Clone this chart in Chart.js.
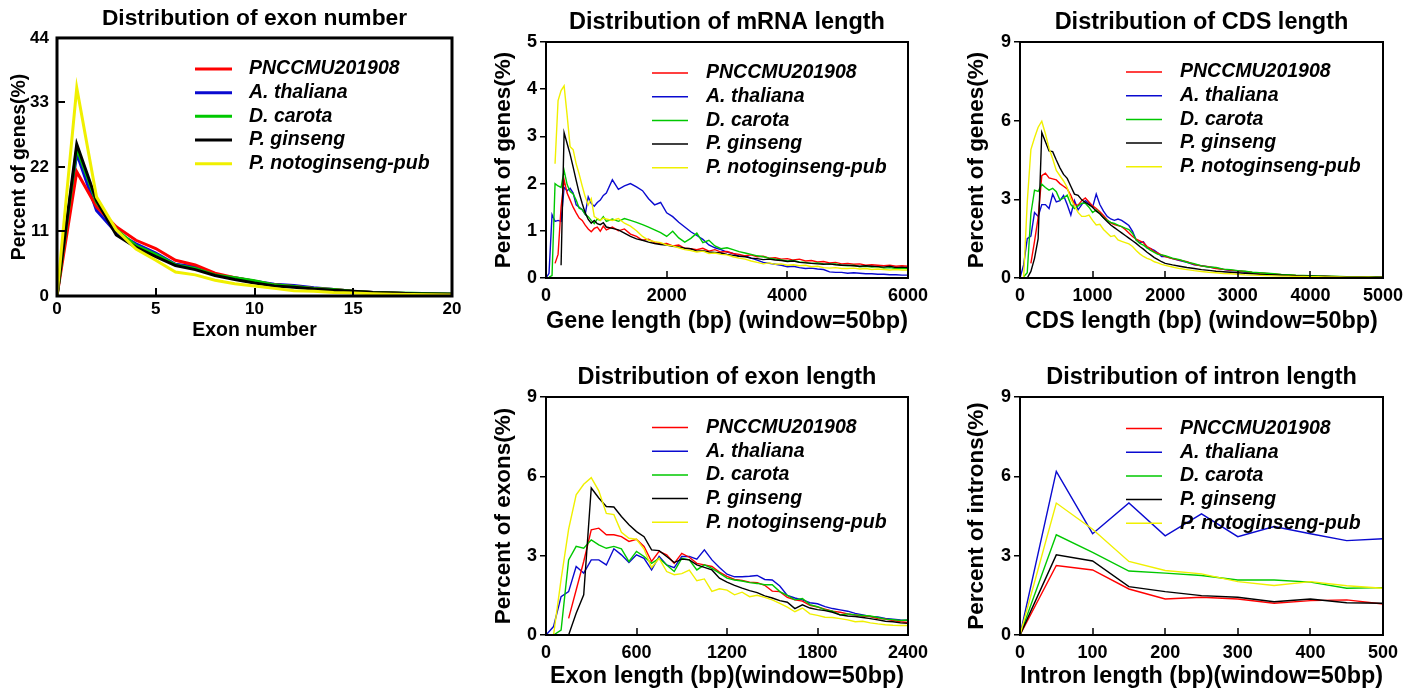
<!DOCTYPE html>
<html>
<head>
<meta charset="utf-8">
<title>Gene structure distributions</title>
<script src="https://cdn.jsdelivr.net/npm/chart.js@4.4.1/dist/chart.umd.min.js"></script>
<style>
  html, body { margin: 0; padding: 0; background: #fff; }
  #wrap { position: relative; width: 1422px; height: 693px; overflow: hidden; }
  canvas { position: absolute; }
</style>
</head>
<body>
<div id="wrap">
  <canvas id="exonNumber" width="470" height="345" style="left:0;top:0"></canvas>
  <canvas id="mrnaLength" width="470" height="345" style="left:480px;top:0"></canvas>
  <canvas id="cdsLength" width="467" height="345" style="left:955px;top:0"></canvas>
  <canvas id="exonLength" width="470" height="338" style="left:480px;top:355px"></canvas>
  <canvas id="intronLength" width="467" height="338" style="left:955px;top:355px"></canvas>
</div>
<script>
// series shared by all five panels
const seriesNames = ['PNCCMU201908', 'A. thaliana', 'D. carota', 'P. ginseng', 'P. notoginseng-pub'];
const seriesColors = ['#ff0000', '#0a0ad0', '#00c800', '#000000', '#f0f000'];
const drawOrder = [3, 4, 2, 1, 0];

// exon number
const exonNumX = [0, 1, 2, 3, 4, 5, 6, 7, 8, 9, 10, 11, 12, 13, 14, 15, 16, 17, 18, 19, 20];
const exonNumRed = [0, 21.2, 15.2, 11.8, 9.5, 8.1, 6.1, 5.3, 3.9, 3.1, 2.5, 1.9, 1.6, 1.3, 1.1, 0.8, 0.6, 0.5, 0.4, 0.35, 0.3];
const exonNumBlue = [0, 24.3, 14.6, 10.8, 8.9, 7.3, 5.4, 5.0, 3.6, 3.1, 2.5, 2.0, 1.8, 1.4, 1.1, 0.8, 0.6, 0.5, 0.4, 0.35, 0.3];
const exonNumGreen = [0, 25.2, 16.0, 11.3, 8.6, 7.1, 5.3, 4.7, 3.6, 3.1, 2.6, 1.9, 1.6, 1.3, 1.1, 0.8, 0.6, 0.5, 0.45, 0.4, 0.35];
const exonNumBlack = [0, 25.9, 16.3, 10.4, 8.3, 6.7, 5.2, 4.5, 3.5, 2.8, 2.2, 1.7, 1.5, 1.2, 1.0, 0.8, 0.6, 0.5, 0.4, 0.35, 0.3];
const exonNumYellow = [0, 35.5, 16.9, 11.3, 8.0, 6.1, 4.1, 3.6, 2.7, 2.1, 1.7, 1.3, 0.9, 0.8, 0.6, 0.5, 0.4, 0.3, 0.25, 0.2, 0.15];
const exonNumXTicks = [0, 5, 10, 15, 20];
const exonNumYTicks = [0, 11, 22, 33, 44];

// mRNA length
const mrnaX = [0, 50, 100, 150, 200, 250, 300, 350, 400, 450, 500, 550, 600, 650, 700, 750, 800, 850, 900, 950, 1000,
  1100, 1200, 1300, 1400, 1500, 1600, 1700, 1800, 1900, 2000,
  2100, 2200, 2300, 2400, 2500, 2600, 2700, 2800, 2900, 3000,
  3100, 3200, 3300, 3400, 3500, 3600, 3700, 3800, 3900, 4000,
  4100, 4200, 4300, 4400, 4500, 4600, 4700, 4800, 4900, 5000,
  5100, 5200, 5300, 5400, 5500, 5600, 5700, 5800, 5900, 6000];
const mrnaRed = [null, null, null, 0.31, 0.5, 1.5, 2.08, 1.8, 1.65, 1.5, 1.38, 1.27, 1.22, 1.12, 1.04, 0.98, 1.05, 1.08, 0.99, 1.1, 1.02,
  1.08, 1.0, 1.04, 0.93, 0.88, 0.8, 0.82, 0.75, 0.72, 0.73,
  0.68, 0.7, 0.63, 0.62, 0.6, 0.63, 0.57, 0.6, 0.55, 0.56,
  0.52, 0.5, 0.47, 0.49, 0.45, 0.46, 0.42, 0.43, 0.4, 0.41,
  0.38, 0.4, 0.36, 0.37, 0.34, 0.35, 0.32, 0.33, 0.3, 0.31,
  0.29, 0.3, 0.27, 0.28, 0.27, 0.26, 0.27, 0.25, 0.26, 0.25];
const mrnaBlue = [0, 0.1, 1.34, 1.2, 1.22, 1.2, 1.92, 1.85, 1.9, 1.8, 1.55, 1.5, 1.45, 1.35, 1.72, 1.58, 1.52, 1.6, 1.65, 1.75, 1.8,
  2.08, 1.88, 1.95, 2.0, 1.93, 1.85, 1.68, 1.55, 1.6, 1.38,
  1.3, 1.18, 1.08, 0.98, 0.9, 0.82, 0.7, 0.64, 0.6, 0.55,
  0.52, 0.46, 0.47, 0.42, 0.38, 0.33, 0.31, 0.29, 0.27, 0.24,
  0.25, 0.22, 0.2, 0.21, 0.19, 0.18, 0.13, 0.12, 0.12, 0.1,
  0.11, 0.1, 0.09, 0.09, 0.08, 0.08, 0.07, 0.07, 0.06, 0.06];
const mrnaGreen = [null, 0.02, 0.05, 2.0, 1.95, 1.92, 2.28, 1.98, 1.83, 1.78, 1.65, 1.48, 1.45, 1.35, 1.3, 1.22, 1.15, 1.25, 1.22, 1.3, 1.2,
  1.25, 1.2, 1.26, 1.22, 1.18, 1.13, 1.08, 1.02, 0.96, 0.88,
  0.99, 0.85, 0.76, 0.84, 0.95, 0.75, 0.8, 0.68, 0.62, 0.64,
  0.6, 0.56, 0.53, 0.5, 0.47, 0.45, 0.42, 0.4, 0.38, 0.36,
  0.37, 0.34, 0.33, 0.31, 0.32, 0.3, 0.29, 0.3, 0.27, 0.26,
  0.27, 0.24, 0.25, 0.23, 0.24, 0.21, 0.22, 0.2, 0.21, 0.2];
const mrnaBlack = [null, null, null, null, null, 0.27, 3.08, 2.85, 2.62, 2.35, 2.07, 1.8, 1.58, 1.38, 1.24, 1.16, 1.22, 1.15, 1.13, 1.17, 1.08,
  1.05, 1.02, 0.95, 0.88, 0.83, 0.8, 0.76, 0.73, 0.71, 0.7,
  0.67, 0.66, 0.63, 0.62, 0.57, 0.58, 0.55, 0.54, 0.53, 0.5,
  0.48, 0.46, 0.45, 0.42, 0.41, 0.39, 0.4, 0.38, 0.37, 0.35,
  0.36, 0.33, 0.32, 0.31, 0.3, 0.29, 0.3, 0.28, 0.27, 0.27,
  0.26, 0.25, 0.26, 0.25, 0.24, 0.23, 0.25, 0.22, 0.23, 0.22];
const mrnaYellow = [null, null, null, 2.42, 3.76, 3.97, 4.07, 3.45, 2.78, 2.72, 2.42, 2.2, 1.95, 1.72, 1.55, 1.68, 1.3, 1.26, 1.22, 1.27, 1.25,
  1.22, 1.26, 1.16, 1.1, 1.0, 0.88, 0.8, 0.77, 0.75, 0.7,
  0.68, 0.64, 0.6, 0.58, 0.55, 0.57, 0.52, 0.53, 0.5, 0.49,
  0.45, 0.42, 0.4, 0.36, 0.33, 0.3, 0.32, 0.29, 0.3, 0.27,
  0.28, 0.26, 0.27, 0.24, 0.25, 0.22, 0.21, 0.22, 0.2, 0.2,
  0.21, 0.19, 0.2, 0.18, 0.19, 0.18, 0.17, 0.18, 0.17, 0.17];
const mrnaXTicks = [0, 2000, 4000, 6000];
const mrnaYTicks = [0, 1, 2, 3, 4, 5];

// CDS length
const cdsX = [0, 50, 100, 150, 200, 250, 300, 350, 400, 450, 500, 550, 600, 650, 700, 750, 800, 850, 900, 950,
  1000, 1050, 1100, 1150, 1200, 1250, 1300, 1350, 1400, 1450, 1500, 1550, 1600, 1650, 1700, 1750, 1800, 1850, 1900, 1950, 2000,
  2100, 2200, 2300, 2400, 2500, 2600, 2700, 2800, 2900, 3000,
  3100, 3200, 3300, 3400, 3500, 3600, 3700, 3800, 3900, 4000,
  4100, 4200, 4300, 4400, 4500, 4600, 4700, 4800, 4900, 5000];
const cdsRed = [null, null, null, 0.56, 1.4, 2.3, 3.9, 4.0, 3.82, 3.78, 3.74, 3.6, 3.5, 3.4, 3.15, 2.8, 2.78, 2.95, 3.05, 2.9,
  2.75, 2.65, 2.53, 2.38, 2.22, 2.1, 2.04, 2.0, 1.96, 1.85, 1.72, 1.58, 1.48, 1.42, 1.35, 1.2, 1.12, 1.0, 0.95, 0.88, 0.82,
  0.74, 0.68, 0.62, 0.52, 0.46, 0.43, 0.36, 0.33, 0.3, 0.27,
  0.25, 0.21, 0.19, 0.17, 0.15, 0.13, 0.12, 0.1, 0.09, 0.08,
  0.07, 0.07, 0.06, 0.05, 0.05, 0.05, 0.04, 0.05, 0.04, 0.03];
const cdsBlue = [0, 0.5, 1.5, 1.6, 2.5, 2.35, 2.8, 2.8, 2.65, 3.2, 2.9, 2.95, 3.15, 2.8, 2.4, 2.95, 2.6, 2.8, 2.95, 2.85,
  2.7, 3.2, 2.8, 2.55, 2.35, 2.25, 2.2, 2.25, 2.2, 2.1, 2.0, 1.78, 1.45, 1.35, 1.38, 1.15, 1.12, 1.05, 0.95, 0.82, 0.83,
  0.74, 0.66, 0.6, 0.5, 0.47, 0.42, 0.38, 0.33, 0.28, 0.27,
  0.23, 0.2, 0.18, 0.16, 0.13, 0.12, 0.1, 0.09, 0.08, 0.07,
  0.06, 0.06, 0.05, 0.05, 0.04, 0.05, 0.04, 0.03, 0.04, 0.03];
const cdsGreen = [null, 0.05, 0.2, 2.45, 3.35, 3.3, 3.58, 3.45, 3.35, 3.42, 3.29, 2.97, 3.05, 3.16, 2.8, 2.65, 2.75, 2.85, 2.85, 2.7,
  2.5, 2.6, 2.45, 2.3, 2.2, 2.12, 2.08, 2.02, 1.96, 1.9, 1.85, 1.7, 1.45, 1.32, 1.25, 1.15, 1.05, 0.98, 0.9, 0.88, 0.85,
  0.76, 0.7, 0.6, 0.55, 0.46, 0.42, 0.4, 0.34, 0.32, 0.28,
  0.26, 0.22, 0.2, 0.18, 0.16, 0.14, 0.13, 0.11, 0.1, 0.09,
  0.08, 0.07, 0.07, 0.06, 0.05, 0.05, 0.04, 0.04, 0.04, 0.03];
const cdsBlack = [null, null, 0.0, 0.25, 0.75, 1.5, 5.55, 5.2, 4.85, 4.82, 4.5, 4.2, 3.95, 3.8, 3.5, 3.2, 3.15, 2.98, 2.88, 2.8,
  2.7, 2.55, 2.45, 2.3, 2.15, 2.02, 1.92, 1.82, 1.72, 1.62, 1.52, 1.42, 1.32, 1.2, 1.1, 0.98, 0.88, 0.78, 0.7, 0.62, 0.56,
  0.5, 0.45, 0.4, 0.36, 0.32, 0.29, 0.26, 0.24, 0.22, 0.2,
  0.18, 0.16, 0.14, 0.13, 0.12, 0.11, 0.1, 0.09, 0.08, 0.07,
  0.06, 0.06, 0.05, 0.05, 0.04, 0.04, 0.04, 0.03, 0.03, 0.03];
const cdsYellow = [null, 0.0, 2.9, 4.9, 5.35, 5.75, 5.98, 5.5, 4.95, 4.55, 4.1, 3.9, 3.7, 3.45, 3.0, 2.75, 2.5, 2.35, 2.35, 2.4,
  2.2, 2.02, 2.05, 1.85, 1.72, 1.58, 1.62, 1.45, 1.4, 1.35, 1.3, 1.2, 1.05, 0.92, 0.82, 0.75, 0.7, 0.62, 0.58, 0.52, 0.48,
  0.42, 0.36, 0.32, 0.28, 0.25, 0.22, 0.2, 0.17, 0.16, 0.14,
  0.12, 0.11, 0.1, 0.09, 0.08, 0.07, 0.07, 0.06, 0.06, 0.05,
  0.05, 0.04, 0.04, 0.04, 0.03, 0.03, 0.03, 0.03, 0.02, 0.02];
const cdsXTicks = [0, 1000, 2000, 3000, 4000, 5000];
const cdsYTicks = [0, 3, 6, 9];

// exon length
const exonLenX = [0, 50, 100, 150, 200, 250, 300, 350, 400, 450, 500, 550, 600, 650, 700, 750, 800, 850, 900, 950,
  1000, 1050, 1100, 1150, 1200, 1250, 1300, 1350, 1400, 1450, 1500, 1550, 1600, 1650, 1700, 1750, 1800, 1850, 1900, 1950,
  2000, 2050, 2100, 2150, 2200, 2250, 2300, 2350, 2400];
const exonLenRed = [null, null, null, 0.63, 1.7, 2.78, 3.98, 4.04, 3.79, 3.79, 3.72, 3.54, 3.62, 3.35, 2.78, 3.16, 3.03, 2.71, 3.09, 2.94,
  2.71, 2.65, 2.59, 2.38, 2.22, 2.1, 2.06, 2.0, 1.98, 1.88, 1.66, 1.64, 1.42, 1.33, 1.28, 1.12, 1.06, 0.98, 0.9, 0.86,
  0.8, 0.76, 0.72, 0.7, 0.62, 0.6, 0.55, 0.5, 0.47];
const exonLenBlue = [0, 0.32, 1.45, 1.64, 2.59, 2.34, 2.84, 2.84, 2.65, 3.26, 3.03, 2.74, 3.03, 2.9, 2.46, 2.97, 2.65, 2.55, 2.97, 2.97,
  2.87, 3.22, 2.84, 2.55, 2.3, 2.2, 2.2, 2.22, 2.25, 2.1, 2.08, 1.85, 1.5, 1.4, 1.33, 1.22, 1.18, 1.07, 1.0, 0.95,
  0.9, 0.82, 0.76, 0.7, 0.68, 0.63, 0.6, 0.57, 0.56];
const exonLenGreen = [null, 0.0, 0.19, 2.84, 3.35, 3.28, 3.6, 3.41, 3.28, 3.35, 3.26, 2.78, 3.16, 2.97, 2.71, 2.9, 2.65, 2.4, 2.9, 2.84,
  2.46, 2.65, 2.52, 2.34, 2.15, 2.08, 2.04, 1.98, 1.95, 1.9, 1.9, 1.64, 1.5, 1.33, 1.38, 1.15, 1.07, 0.95, 0.9, 0.76,
  0.8, 0.76, 0.74, 0.72, 0.66, 0.6, 0.58, 0.55, 0.57];
const exonLenBlack = [null, null, null, 0.0, 0.82, 1.52, 5.56, 5.18, 4.86, 4.84, 4.48, 4.17, 3.91, 3.72, 3.22, 3.19, 2.97, 2.74, 2.87, 2.84,
  2.65, 2.56, 2.46, 2.15, 2.0, 1.88, 1.77, 1.68, 1.6, 1.48, 1.4, 1.3, 1.24, 1.0, 1.14, 1.02, 0.96, 0.92, 0.86, 0.76,
  0.72, 0.7, 0.66, 0.62, 0.57, 0.52, 0.5, 0.46, 0.44];
const exonLenYellow = [null, 0.0, 2.1, 4.0, 5.3, 5.7, 5.95, 5.45, 4.6, 4.55, 3.88, 3.66, 3.62, 3.25, 2.55, 2.9, 2.4, 2.28, 2.32, 2.45,
  2.05, 2.12, 1.65, 1.75, 1.7, 1.52, 1.62, 1.45, 1.5, 1.42, 1.33, 1.2, 1.05, 0.88, 1.02, 0.8, 0.74, 0.67, 0.66, 0.62,
  0.57, 0.5, 0.52, 0.46, 0.42, 0.39, 0.37, 0.36, 0.36];
const exonLenXTicks = [0, 600, 1200, 1800, 2400];
const exonLenYTicks = [0, 3, 6, 9];

// intron length
const intronX = [0, 50, 100, 150, 200, 250, 300, 350, 400, 450, 500];
const intronRed = [0, 2.63, 2.46, 1.74, 1.36, 1.43, 1.36, 1.2, 1.3, 1.33, 1.17];
const intronBlue = [0, 6.19, 3.83, 4.99, 3.75, 4.58, 3.72, 4.1, 3.83, 3.57, 3.64];
const intronGreen = [0, 3.79, 3.12, 2.42, 2.34, 2.25, 2.08, 2.08, 2.0, 1.77, 1.79];
const intronBlack = [0, 3.03, 2.8, 1.83, 1.64, 1.49, 1.43, 1.26, 1.36, 1.22, 1.2];
const intronYellow = [0, 4.99, 4.0, 2.78, 2.44, 2.31, 2.02, 1.87, 2.02, 1.86, 1.77];
const intronXTicks = [0, 100, 200, 300, 400, 500];
const intronYTicks = [0, 3, 6, 9];

const FONT = '"Liberation Sans", Arial, Helvetica, sans-serif';
Chart.defaults.font.family = FONT;
Chart.defaults.color = '#000';

function bold(size) {
  return { family: FONT, size: size, weight: 'bold' };
}

// box around the plot area plus inward tick marks
const frameTicks = {
  id: 'frameTicks',
  afterDraw(chart, args, opts) {
    const { ctx, chartArea: a } = chart;
    const sx = chart.scales.x, sy = chart.scales.y;
    ctx.save();
    ctx.strokeStyle = '#000';
    ctx.lineWidth = opts.tickWidth;
    ctx.beginPath();
    if (opts.xIn) {
      sx.ticks.forEach(t => {
        const px = Math.round(sx.getPixelForValue(t.value));
        ctx.moveTo(px, a.bottom);
        ctx.lineTo(px, a.bottom - opts.xIn);
      });
    }
    if (opts.yIn) {
      sy.ticks.forEach(t => {
        const py = Math.round(sy.getPixelForValue(t.value));
        ctx.moveTo(a.left, py);
        ctx.lineTo(a.left + opts.yIn, py);
      });
    }
    ctx.stroke();
    ctx.lineWidth = opts.width;
    ctx.strokeRect(a.left, a.top, a.right - a.left, a.bottom - a.top);
    ctx.restore();
  }
};

// legend drawn inside the plot area
const legendInside = {
  id: 'legendInside',
  afterDraw(chart, args, o) {
    const { ctx, chartArea } = chart;
    ctx.save();
    ctx.font = 'italic bold 19.5px ' + FONT;
    ctx.textBaseline = 'middle';
    ctx.textAlign = 'left';
    chart.data.datasets.forEach((ds, i) => {
      const x = chartArea.left + o.left;
      const y = chartArea.top + o.top + i * o.rowH;
      ctx.strokeStyle = ds.borderColor;
      ctx.lineWidth = o.lineWidth;
      ctx.beginPath();
      ctx.moveTo(x, y);
      ctx.lineTo(x + o.lineLen, y);
      ctx.stroke();
      ctx.fillStyle = '#000';
      ctx.fillText(ds.label, x + o.gap, y);
    });
    ctx.restore();
  }
};

function makePanel(id, p) {
  const datasets = p.series.map((ys, i) => ({
    label: seriesNames[i],
    data: p.xs.map((x, j) => ({ x: x, y: ys[j] })),
    borderColor: seriesColors[i],
    backgroundColor: seriesColors[i],
    borderWidth: p.lineWidth,
    pointRadius: 0,
    tension: 0,
    order: drawOrder[i]
  }));

  return new Chart(document.getElementById(id), {
    type: 'line',
    data: { datasets: datasets },
    options: {
      responsive: false,
      animation: false,
      devicePixelRatio: 1,
      layout: { padding: { left: 0, top: 0, bottom: 0, right: p.padRight } },
      plugins: {
        legend: { display: false },
        tooltip: { enabled: false },
        title: {
          display: true,
          text: p.title,
          fullSize: false,
          color: '#000',
          font: bold(p.titleSize),
          padding: p.titlePad
        },
        legendInside: p.legend,
        frameTicks: p.frame
      },
      scales: {
        x: {
          type: 'linear',
          min: p.xTicks[0],
          max: p.xTicks[p.xTicks.length - 1],
          afterBuildTicks: s => { s.ticks = p.xTicks.map(v => ({ value: v })); },
          afterFit: s => { s.height = p.xh; },
          grid: { display: false, drawTicks: false },
          border: { display: false },
          ticks: {
            autoSkip: false, maxRotation: 0, color: '#000',
            font: bold(p.tickSize), padding: p.xTickPad,
            callback: v => String(v)
          },
          title: {
            display: true, text: p.xTitle, color: '#000',
            font: bold(p.xTitleSize), padding: { top: 0, bottom: p.xTitlePad }
          }
        },
        y: {
          type: 'linear',
          min: p.yTicks[0],
          max: p.yTicks[p.yTicks.length - 1],
          afterBuildTicks: s => { s.ticks = p.yTicks.map(v => ({ value: v })); },
          afterFit: s => { s.width = p.yw; },
          grid: {
            display: p.yOut > 0, drawOnChartArea: false, drawTicks: p.yOut > 0,
            tickLength: p.yOut, color: '#000', lineWidth: 1.5
          },
          border: { display: false },
          ticks: {
            autoSkip: false, color: '#000',
            font: bold(p.tickSize), padding: p.yTickPad,
            callback: v => String(v)
          },
          title: {
            display: true, text: p.yTitle, color: '#000',
            font: bold(p.yTitleSize), padding: { top: p.yTitlePad, bottom: 0 }
          }
        }
      }
    },
    plugins: [frameTicks, legendInside]
  });
}

const smallLegend = { left: 106, top: 31, lineLen: 36, gap: 54, rowH: 23.7, lineWidth: 1.5 };
const smallFrame = { width: 2, tickWidth: 1.5, xIn: 7, yIn: 0 };

makePanel('exonNumber', {
  xs: exonNumX,
  series: [exonNumRed, exonNumBlue, exonNumGreen, exonNumBlack, exonNumYellow],
  xTicks: exonNumXTicks, yTicks: exonNumYTicks,
  title: 'Distribution of exon number', titleSize: 22.8, titlePad: { top: 5.3, bottom: 5.3 },
  xTitle: 'Exon number', xTitleSize: 19.5, xTitlePad: 2.3,
  yTitle: 'Percent of genes(%)', yTitleSize: 19.4, yTitlePad: 8.4,
  padRight: 18, yw: 57, xh: 49,
  tickSize: 17, xTickPad: 3, yTickPad: 8, yOut: 0,
  lineWidth: 3,
  frame: { width: 3, tickWidth: 2, xIn: 8, yIn: 8 },
  legend: { left: 138, top: 31, lineLen: 37, gap: 54, rowH: 23.7, lineWidth: 3 }
});

makePanel('mrnaLength', {
  xs: mrnaX,
  series: [mrnaRed, mrnaBlue, mrnaGreen, mrnaBlack, mrnaYellow],
  xTicks: mrnaXTicks, yTicks: mrnaYTicks,
  title: 'Distribution of mRNA length', titleSize: 23.5, titlePad: { top: 8.4, bottom: 5.4 },
  xTitle: 'Gene length (bp) (window=50bp)', xTitleSize: 23.4, xTitlePad: 9,
  yTitle: 'Percent of genes(%)', yTitleSize: 22.5, yTitlePad: 9.8,
  padRight: 42, yw: 66, xh: 67,
  tickSize: 18, xTickPad: 7, yTickPad: 3, yOut: 6,
  lineWidth: 1.4,
  frame: smallFrame,
  legend: smallLegend
});

makePanel('cdsLength', {
  xs: cdsX,
  series: [cdsRed, cdsBlue, cdsGreen, cdsBlack, cdsYellow],
  xTicks: cdsXTicks, yTicks: cdsYTicks,
  title: 'Distribution of CDS length', titleSize: 23.5, titlePad: { top: 8.4, bottom: 5.4 },
  xTitle: 'CDS length (bp) (window=50bp)', xTitleSize: 23.4, xTitlePad: 9,
  yTitle: 'Percent of genes(%)', yTitleSize: 22.5, yTitlePad: 8.5,
  padRight: 39, yw: 65, xh: 67,
  tickSize: 18, xTickPad: 7, yTickPad: 3, yOut: 6,
  lineWidth: 1.4,
  frame: smallFrame,
  legend: Object.assign({}, smallLegend, { top: 30 })
});

makePanel('exonLength', {
  xs: exonLenX,
  series: [exonLenRed, exonLenBlue, exonLenGreen, exonLenBlack, exonLenYellow],
  xTicks: exonLenXTicks, yTicks: exonLenYTicks,
  title: 'Distribution of exon length', titleSize: 23.5, titlePad: { top: 8.9, bottom: 4.9 },
  xTitle: 'Exon length (bp)(window=50bp)', xTitleSize: 23.4, xTitlePad: 2,
  yTitle: 'Percent of exons(%)', yTitleSize: 22.5, yTitlePad: 9.8,
  padRight: 42, yw: 66, xh: 58,
  tickSize: 18, xTickPad: 7, yTickPad: 3, yOut: 6,
  lineWidth: 1.4,
  frame: smallFrame,
  legend: Object.assign({}, smallLegend, { top: 30.5 })
});

makePanel('intronLength', {
  xs: intronX,
  series: [intronRed, intronBlue, intronGreen, intronBlack, intronYellow],
  xTicks: intronXTicks, yTicks: intronYTicks,
  title: 'Distribution of intron length', titleSize: 23.5, titlePad: { top: 8.9, bottom: 4.9 },
  xTitle: 'Intron length (bp)(window=50bp)', xTitleSize: 23.4, xTitlePad: 2,
  yTitle: 'Percent of introns(%)', yTitleSize: 22.5, yTitlePad: 8.5,
  padRight: 39, yw: 65, xh: 58,
  tickSize: 18, xTickPad: 7, yTickPad: 3, yOut: 6,
  lineWidth: 1.4,
  frame: smallFrame,
  legend: Object.assign({}, smallLegend, { top: 31.5 })
});
</script>
</body>
</html>
